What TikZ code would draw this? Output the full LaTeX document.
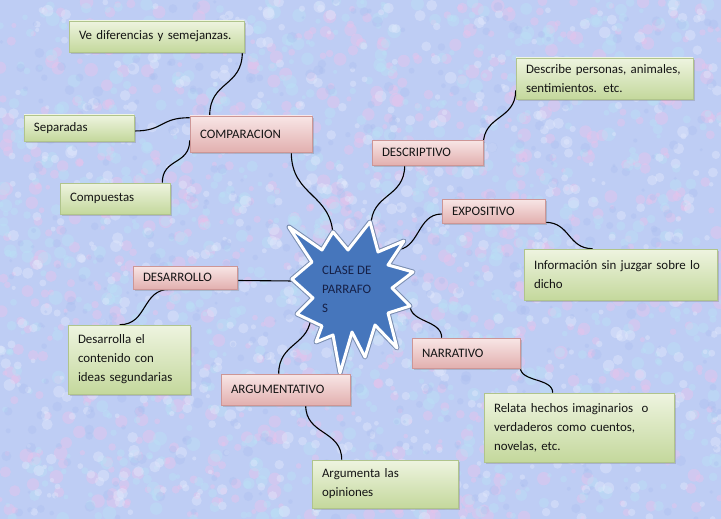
\documentclass[tikz,border=0pt]{standalone}
\usepackage{fontspec}
\setmainfont{Carlito}
\usetikzlibrary{calc,shadows}
\definecolor{bgc}{RGB}{190,205,244}
\definecolor{blobpink}{RGB}{236,194,234}
\definecolor{blobcyan}{RGB}{186,226,246}
\definecolor{bloblight}{RGB}{228,234,252}
\definecolor{blobblue}{RGB}{168,188,238}
\definecolor{gtop}{RGB}{238,244,224}
\definecolor{gbot}{RGB}{196,216,156}
\definecolor{gedge}{RGB}{176,196,140}
\definecolor{ptop}{RGB}{248,230,230}
\definecolor{pbot}{RGB}{226,176,175}
\definecolor{pedge}{RGB}{205,150,150}
\definecolor{starblue}{RGB}{70,118,188}
\definecolor{staredge}{RGB}{120,140,175}
\definecolor{txt}{RGB}{20,20,20}
\definecolor{startxt}{RGB}{22,32,70}
\pgfdeclarelayer{bg}
\pgfdeclarelayer{conns}
\pgfdeclarelayer{starl}
\pgfsetlayers{bg,conns,starl,main}
\begin{document}
\begin{tikzpicture}[x=1pt,y=-1pt,
  boxbase/.style={rectangle, line width=0.6pt, inner xsep=10pt, inner ysep=0pt,
    align=left, font=\fontsize{12.9}{19}\selectfont, text=txt,
    drop shadow={shadow xshift=2pt,shadow yshift=-2pt,opacity=0.35}},
  greenbox/.style={boxbase, draw=gedge, top color=gtop, bottom color=gbot},
  pinkbox/.style={boxbase, draw=pedge, top color=ptop, bottom color=pbot},
  conn/.style={draw=black, line width=1.1pt}
]
\useasboundingbox (0,0) rectangle (721,519);
\begin{pgfonlayer}{bg}
\fill[bgc] (0,0) rectangle (721,519);
\begin{scope}
\clip (0,0) rectangle (721,519);
\pgfmathsetseed{7}
\foreach \i in {1,...,900}{
  \pgfmathsetmacro\px{rnd*721}\pgfmathsetmacro\py{rnd*519}\pgfmathsetmacro\pr{2+rnd*5}
  \fill[blobpink,opacity=0.4] (\px,\py) circle (\pr pt);}
\foreach \i in {1,...,900}{
  \pgfmathsetmacro\px{rnd*721}\pgfmathsetmacro\py{rnd*519}\pgfmathsetmacro\pr{2+rnd*5}
  \fill[blobcyan,opacity=0.4] (\px,\py) circle (\pr pt);}
\foreach \i in {1,...,700}{
  \pgfmathsetmacro\px{rnd*721}\pgfmathsetmacro\py{rnd*519}\pgfmathsetmacro\pr{2+rnd*4}
  \fill[bloblight,opacity=0.4] (\px,\py) circle (\pr pt);}
\foreach \i in {1,...,500}{
  \pgfmathsetmacro\px{rnd*721}\pgfmathsetmacro\py{rnd*519}\pgfmathsetmacro\pr{1.5+rnd*4}
  \fill[blobblue,opacity=0.3] (\px,\py) circle (\pr pt);}
\end{scope}
\end{pgfonlayer}

% boxes
\node[greenbox, text width=155pt, minimum height=31pt] (ve) at (156.5,36.5) {Ve diferencias y semejanzas.};
\node[greenbox, text width=90pt, minimum height=26pt] (sep) at (79,128) {Separadas};
\node[pinkbox, text width=102pt, minimum height=36pt] (comp) at (251,134) {COMPARACION};
\node[greenbox, text width=90pt, minimum height=31pt] (compu) at (115,198.5) {Compuestas};
\node[pinkbox, text width=91pt, minimum height=25pt] (desc) at (427.5,152.5) {DESCRIPTIVO};
\node[greenbox, text width=157pt, minimum height=41pt] (descr) at (604.5,78.5) {\mbox{Describe personas, animales,}\\\mbox{sentimientos. etc.}};
\node[pinkbox, text width=83pt, minimum height=24pt] (expo) at (493.5,211) {EXPOSITIVO};
\node[greenbox, text width=173pt, minimum height=51pt] (info) at (620.5,274.5) {\mbox{Información sin juzgar sobre lo}\\\mbox{dicho}};
\node[pinkbox, text width=84pt, minimum height=23pt] (desa) at (185,277.5) {DESARROLLO};
\node[greenbox, text width=102pt, minimum height=69pt] (desar) at (129,359.5) {\mbox{Desarrolla el}\\\mbox{contenido con}\\\mbox{ideas segundarias}};
\node[pinkbox, text width=88pt, minimum height=30pt] (narr) at (466,353) {NARRATIVO};
\node[greenbox, text width=170pt, minimum height=69pt] (rel) at (579,427.5) {\mbox{Relata hechos imaginarios\ \ o}\\\mbox{verdaderos como cuentos,}\\\mbox{novelas, etc.}};
\node[pinkbox, text width=109pt, minimum height=31pt] (arg) at (285.5,389.5) {ARGUMENTATIVO};
\node[greenbox, text width=126pt, minimum height=48pt] (argu) at (385,484) {\mbox{Argumenta las}\\\mbox{opiniones}};

% star attach points
\coordinate (scomp) at (333,238);
\coordinate (sdesc) at (371,226);
\coordinate (sexpo) at (395,250);
\coordinate (sdesa) at (294,281);
\coordinate (snarr) at (410,305);
\coordinate (sarg) at (311,314);

% connectors
\begin{pgfonlayer}{conns}
\draw[conn] ($(ve.south east)+(-2,0)$) .. controls +(0,35) and +(0,-35) .. ($(comp.north west)+(20,0)$);
\draw[conn] ($(sep.east)+(0,3)$) .. controls +(30,0) and +(-30,0) .. ($(comp.north west)+(0,2)$);
\draw[conn] ($(comp.south west)+(0,-12)$) .. controls +(0,25) and +(0,-25) .. ($(compu.north east)+(-8,0)$);
\draw[conn] ($(comp.south east)+(-21,0)$) .. controls +(0,45) and +(0,-45) .. (scomp);
\draw[conn] ($(desc.south west)+(33,0)$) .. controls +(0,33) and +(0,-33) .. (sdesc);
\draw[conn] ($(desc.north east)+(0,5)$) .. controls +(0,-30) and +(0,30) .. ($(descr.south west)+(0,-9)$);
\draw[conn] ($(expo.west)+(0,3)$) .. controls +(-25,0) and +(25,0) .. (sexpo);
\draw[conn] ($(expo.south east)+(0,-1)$) .. controls +(25,0) and +(-25,0) .. ($(info.north west)+(69,0)$);
\draw[conn] ($(desa.east)+(0,3)$) -- (sdesa);
\draw[conn] ($(desa.south west)+(37,0)$) .. controls +(-28,0) and +(28,0) .. ($(desar.north west)+(52,0)$);
\draw[conn] (snarr) .. controls +(0,18) and +(0,-18) .. ($(narr.north west)+(30,0)$);
\draw[conn] ($(narr.south east)+(0,-1)$) .. controls +(0,15) and +(0,-15) .. ($(rel.north west)+(69,0)$);
\draw[conn] (sarg) .. controls +(0,32) and +(0,-32) .. ($(arg.north west)+(58,0)$);
\draw[conn] ($(arg.south west)+(85,0)$) .. controls +(0,30) and +(0,-30) .. ($(argu.north west)+(30,0)$);
\end{pgfonlayer}

% star
\begin{pgfonlayer}{starl}
\def\starpath{(289,227) -- (322,250) -- (333,232) -- (348,250) -- (370,222) -- (378,252) -- (404,241) -- (388,265) -- (413,272) -- (392,288) -- (410,306) -- (388,313) -- (397,348) -- (375,325) -- (365,357) -- (352,332) -- (340,373) -- (333,335) -- (316,342) -- (322,326) -- (297,314) -- (313,298) -- (292,279) -- (312,262) -- cycle}
\draw[line width=5pt, draw=staredge, line join=round] \starpath;
\draw[line width=3pt, draw=white, fill=starblue, line join=round] \starpath;
\node[anchor=north west, inner sep=0pt, align=left, font=\fontsize{12.9}{19}\selectfont, text=startxt] (title) at (322,266) {CLASE DE\\PARRAFO\\S};
\end{pgfonlayer}
\end{tikzpicture}
\end{document}
